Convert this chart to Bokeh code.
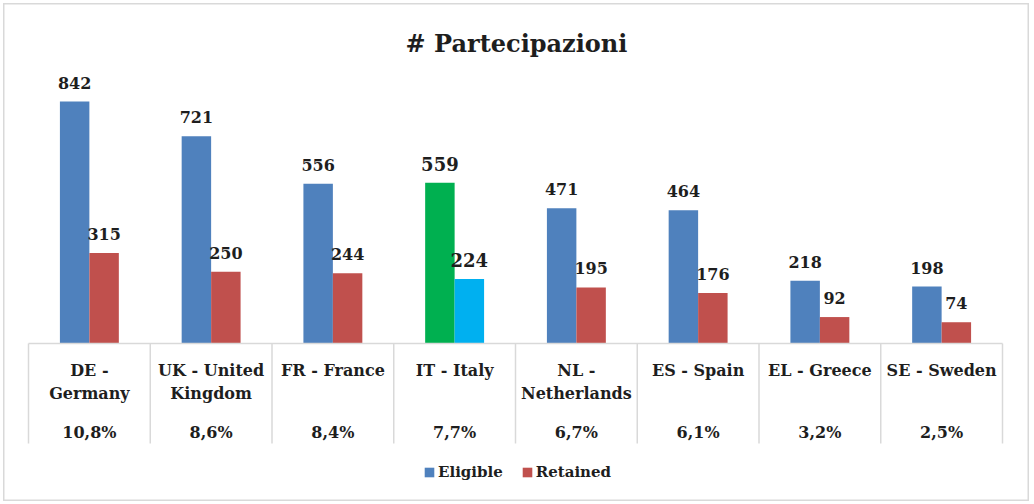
import numpy as np
from bokeh.plotting import figure
from bokeh.models import ColumnDataSource, Range1d, Label, Legend, LegendItem
from bokeh.core.properties import value
from bokeh.embed import file_html
from bokeh.resources import INLINE

# ---- data ----
categories = ["DE - Germany", "UK - United Kingdom", "FR - France", "IT - Italy",
              "NL - Netherlands", "ES - Spain", "EL - Greece", "SE - Sweden"]
category_labels = ["DE -\nGermany", "UK - United\nKingdom", "FR - France", "IT - Italy",
                   "NL -\nNetherlands", "ES - Spain", "EL - Greece", "SE - Sweden"]
eligible = [842, 721, 556, 559, 471, 464, 218, 198]
retained = [315, 250, 244, 224, 195, 176, 92, 74]
shares = ["10,8%", "8,6%", "8,4%", "7,7%", "6,7%", "6,1%", "3,2%", "2,5%"]
highlight = "IT - Italy"
title_text = "# Partecipazioni"

# ---- styling / layout ----
BLUE, RED, GREEN, CYAN = "#4F81BD", "#C0504D", "#00B050", "#00B0F0"
TXT = "#1E1E1E"
GRID = "#D9D9D9"
FONT_NAME = "DejaVu Serif"
FONT = value(FONT_NAME)
W, H = 1026, 498
CAT_LEFT, CAT_W = 25.0, 121.75      # px
BASE_Y, PX_PER_UNIT = 340.0, 0.2874  # px from top, px per unit
BAR_W, OFF = 0.242, 0.121

n = len(categories)
center = np.arange(n) + 0.5
is_hl = [c == highlight for c in categories]

src = ColumnDataSource(dict(
    cat=categories,
    xe=center - OFF, xr=center + OFF, xc=center,
    eligible=eligible, retained=retained,
    le=[str(v) for v in eligible], lr=[str(v) for v in retained],
    ce=[GREEN if h else BLUE for h in is_hl],
    cr=[CYAN if h else RED for h in is_hl],
    fs=["18px" if h else "16px" for h in is_hl],
    lab=category_labels, share=shares,
))

p = figure(width=W, height=H, output_backend="svg", toolbar_location=None,
           x_range=Range1d(-CAT_LEFT / CAT_W, (W - CAT_LEFT) / CAT_W),
           y_range=Range1d(-(H - BASE_Y) / PX_PER_UNIT, BASE_Y / PX_PER_UNIT),
           x_axis_location=None, y_axis_location=None, min_border=0)
p.grid.visible = False
p.outline_line_color = GRID
p.outline_line_width = 2
p.background_fill_color = "white"
p.border_fill_color = "white"
p.styles = {"margin-left": "3px", "margin-top": "3px"}

re_ = p.vbar(x="xe", top="eligible", bottom=0, width=BAR_W, source=src,
             fill_color="ce", line_color=None)
rr_ = p.vbar(x="xr", top="retained", bottom=0, width=BAR_W, source=src,
             fill_color="cr", line_color=None)

common = dict(text_font=FONT, text_font_style="bold", text_color=TXT,
              text_align="center", source=src)
p.text(x="xe", y="eligible", text="le", text_baseline="alphabetic",
       y_offset=-19, text_font_size="fs", **common)
p.text(x="xr", y="retained", text="lr", text_baseline="alphabetic",
       y_offset=-19, text_font_size="fs", **common)

# category table
edges = np.arange(n + 1)
tbl_h = 100 / PX_PER_UNIT
p.segment(x0=edges, y0=np.zeros(n + 1), x1=edges, y1=np.full(n + 1, -tbl_h),
          line_color=GRID, line_width=1.5)
p.segment(x0=[0], y0=[0], x1=[n], y1=[0], line_color=GRID, line_width=1.5)
p.text(x="xc", y=0, text="lab", text_baseline="top", y_offset=17,
       text_line_height=1.22, text_font_size="16px", **common)
p.text(x="xc", y=0, text="share", text_baseline="middle", y_offset=89,
       text_font_size="16px", **common)

# title
p.add_layout(Label(x=513, y=H - 40, x_units="screen", y_units="screen",
                   text=title_text, text_font=FONT_NAME, text_font_style="bold",
                   text_font_size="24px", text_color=TXT,
                   text_align="center", text_baseline="middle"))

legend = Legend(items=[LegendItem(label="Eligible", renderers=[re_], index=0),
                       LegendItem(label="Retained", renderers=[rr_], index=0)],
                orientation="horizontal", location=(420, 20),
                glyph_width=12, glyph_height=12, label_standoff=3, spacing=18,
                padding=0, margin=0, border_line_color=None,
                background_fill_alpha=0,
                label_text_font=FONT_NAME, label_text_font_style="bold",
                label_text_font_size="15px", label_text_color=TXT)
p.add_layout(legend, "center")

open("out.html", "w").write(file_html(p, INLINE))
